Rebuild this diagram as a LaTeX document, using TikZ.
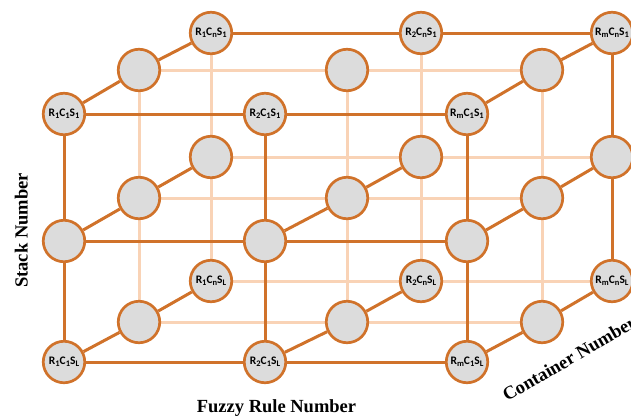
\documentclass[tikz,border=0pt]{standalone}
\usepackage{fontspec}
\setmainfont{Liberation Serif}
\newfontfamily\nodefont{Carlito}
\usetikzlibrary{backgrounds}
\definecolor{dk}{HTML}{D0722A}
\definecolor{lt}{HTML}{F9D3B6}
\definecolor{nfill}{HTML}{DCDCDC}
\newcommand\lowsub[1]{\raisebox{-0.35ex}{\fontsize{8.5}{9}\selectfont #1}}
\newcommand\lbl[3]{R\lowsub{#1}C\lowsub{#2}S\lowsub{#3}}
\begin{document}
\begin{tikzpicture}[x=1pt,y=-1pt,
  nd/.style={circle,draw=dk,fill=nfill,line width=2.7pt,minimum size=41.5pt,inner sep=0pt,
    font=\nodefont\bfseries\fontsize{11.5}{12}\selectfont},
  darkline/.style={draw=dk,line width=3pt},
  lightline/.style={draw=lt,line width=3pt},
  axislbl/.style={font=\bfseries\fontsize{18.5}{20}\selectfont,inner sep=0pt}]
\useasboundingbox (0,0) rectangle (631,418);

% front layer (C1)
\node[nd] (F11) at (64,114) {\lbl{1}{1}{1}};
\node[nd] (F21) at (265,114) {\lbl{2}{1}{1}};
\node[nd] (F31) at (467,114) {\lbl{m}{1}{1}};
\node[nd] (F12) at (64,241) {};
\node[nd] (F22) at (265,241) {};
\node[nd] (F32) at (467,241) {};
\node[nd] (F13) at (64,362) {\lbl{1}{1}{L}};
\node[nd] (F23) at (265,362) {\lbl{2}{1}{L}};
\node[nd] (F33) at (467,362) {\lbl{m}{1}{L}};

% middle layer
\node[nd] (M11) at (139,70) {};
\node[nd] (M21) at (347,70) {};
\node[nd] (M31) at (542,70) {};
\node[nd] (M12) at (139,198) {};
\node[nd] (M22) at (347,198) {};
\node[nd] (M32) at (542,198) {};
\node[nd] (M13) at (139,322) {};
\node[nd] (M23) at (347,322) {};
\node[nd] (M33) at (542,322) {};

% back layer (Cn)
\node[nd] (B11) at (211,33) {\lbl{1}{n}{1}};
\node[nd] (B21) at (421,33) {\lbl{2}{n}{1}};
\node[nd] (B31) at (612,33) {\lbl{m}{n}{1}};
\node[nd] (B12) at (211,157) {};
\node[nd] (B22) at (421,157) {};
\node[nd] (B32) at (612,157) {};
\node[nd] (B13) at (211,281) {\lbl{1}{n}{L}};
\node[nd] (B23) at (421,281) {\lbl{2}{n}{L}};
\node[nd] (B33) at (612,281) {\lbl{m}{n}{L}};

\begin{pgfonlayer}{background}
  % light lines
  \foreach \s in {1,2,3} {
    \draw[lightline] (M1\s) -- (M2\s) -- (M3\s);
    \draw[lightline] (M\s1) -- (M\s2) -- (M\s3);
  }
  \foreach \s in {2,3} \draw[lightline] (B1\s) -- (B2\s) -- (B3\s);
  \foreach \r in {1,2} \draw[lightline] (B\r1) -- (B\r2) -- (B\r3);
  % dark lines
  \foreach \s in {1,2,3} {
    \draw[darkline] (F1\s) -- (F2\s) -- (F3\s);
    \draw[darkline] (F\s1) -- (F\s2) -- (F\s3);
  }
  \draw[darkline] (B11) -- (B21) -- (B31);
  \draw[darkline] (B31) -- (B32) -- (B33);
  \foreach \rs in {11,12,13,22,23,31,32,33}
    \draw[darkline] (F\rs) -- (M\rs) -- (B\rs);
\end{pgfonlayer}

% axis labels
\node[axislbl,rotate=90,anchor=base] (ylab) at (27.5,230.5) {Stack Number};
\node[axislbl,anchor=base] (xlab) at (276.5,412) {Fuzzy Rule Number};
\node[axislbl,rotate=30,anchor=base west] (zlab) at (507,402) {Container Number};
\end{tikzpicture}
\end{document}
